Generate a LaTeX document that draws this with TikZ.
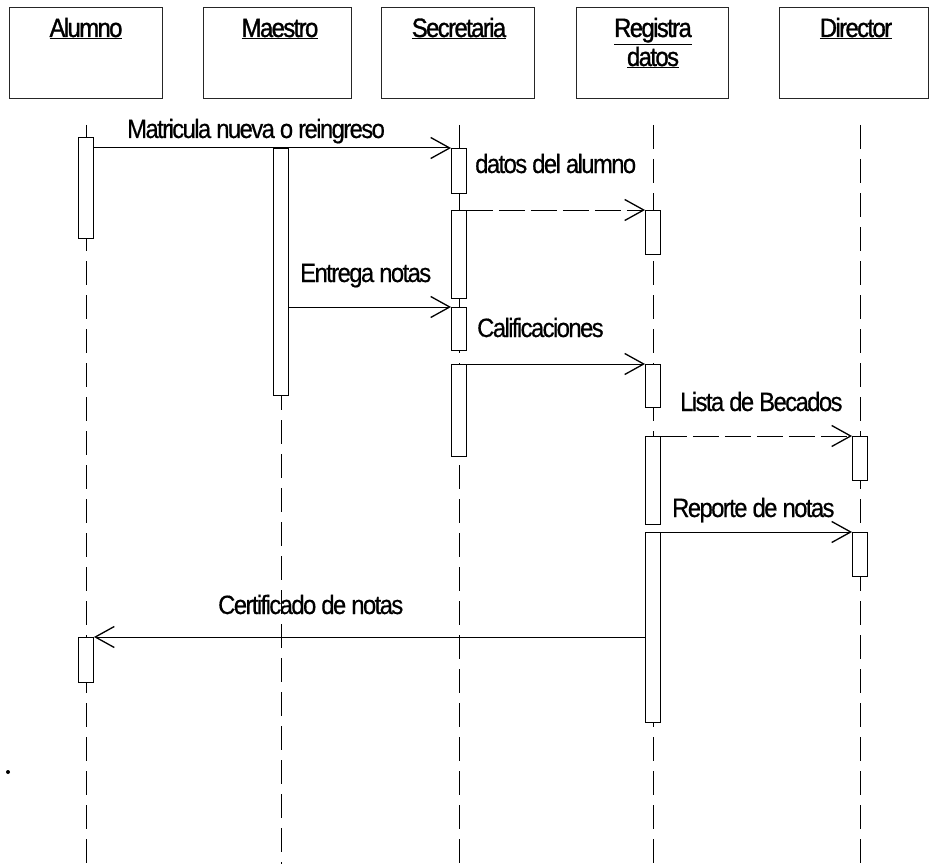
\documentclass[tikz,border=0pt]{standalone}
\usepackage{fontspec}
\newfontfamily\lbl[FakeStretch=0.9,LetterSpace=-6,FakeBold=0.5]{Liberation Sans}
\newfontfamily\hlbl[FakeStretch=0.9,LetterSpace=-6,FakeBold=1.2]{Liberation Sans}
\usetikzlibrary{arrows.meta}
\begin{document}
\begin{tikzpicture}[x=1pt,y=-1pt,
 hdr/.style={draw=black!85, line width=0.9pt, minimum width=#1, minimum height=91pt, inner sep=0pt, anchor=north west},
 bar/.style={draw=black, fill=white, line width=0.9pt, minimum width=15pt, minimum height=#1, inner sep=0pt, anchor=north},
 life/.style={draw=black, line width=0.9pt, dash pattern=on 24pt off 10pt},
 msg/.style={draw=black, line width=1pt, -{Straight Barb[length=19pt,width=21pt,line width=1.3pt]}},
 ret/.style={msg, dash pattern=on 26pt off 6pt},
 txt/.style={font=\lbl\fontsize{26.5}{30}\selectfont, inner sep=0pt, anchor=base west},
 htxt/.style={font=\hlbl\fontsize{26.5}{30}\selectfont, inner sep=0pt, anchor=base},
]
\useasboundingbox (0,0) rectangle (929,864);

% header boxes
\node[hdr=153pt] (hA) at (9,7) {};
\node[hdr=148pt] (hM) at (203,7) {};
\node[hdr=153pt] (hS) at (381,7) {};
\node[hdr=152pt] (hR) at (576,7) {};
\node[hdr=149pt] (hD) at (779,7) {};
\node[htxt] (tA) at (86,37) {\underline{Alumno}};
\node[htxt] (tM) at (280,37) {\underline{Maestro}};
\node[htxt] (tS) at (459,37) {\underline{Secretaria}};
\node[htxt] (tR1) at (653,37) {\underline{Registra}};
\node[htxt] (tR2) at (653,66) {\underline{datos}};
\node[htxt] (tD) at (856,37) {\underline{Director}};

% lifelines
\coordinate (lA0) at (86,125);  \coordinate (lA1) at (86,864);
\coordinate (lM0) at (281,148); \coordinate (lM1) at (281,864);
\coordinate (lS0) at (459,125); \coordinate (lS1) at (459,864);
\coordinate (lR0) at (653,125); \coordinate (lR1) at (653,864);
\coordinate (lD0) at (860,125); \coordinate (lD1) at (860,864);
\draw[life] (lA0) -- (lA1);
\draw[life] (lM0) -- (lM1);
\draw[life] (lS0) -- (lS1);
\draw[life] (lR0) -- (lR1);
\draw[life] (lD0) -- (lD1);

% activation bars
\node[bar=101pt] (A1) at (86,137) {};
\node[bar=45pt]  (A2) at (86,637) {};
\node[bar=247pt] (M1) at (281,148) {};
\node[bar=45pt]  (S1) at (459,148) {};
\node[bar=88pt]  (S2) at (459,210) {};
\node[bar=43pt]  (S3) at (459,307) {};
\node[bar=92pt]  (S4) at (459,364) {};
\node[bar=44pt]  (R1) at (653,210) {};
\node[bar=43pt]  (R2) at (653,364) {};
\node[bar=88pt]  (R3) at (653,436) {};
\node[bar=190pt] (R4) at (653,532) {};
\node[bar=44pt]  (D1) at (860,436) {};
\node[bar=44pt]  (D2) at (860,532) {};

% messages
\draw[msg] (S1.north west -| A1.east) -- (S1.north west);
\node[txt] (m1) at (127,138) {Matricula nueva o reingreso};
\draw[ret] (S2.north east) -- (R1.north west);
\node[txt] (m2) at (475,173) {datos del alumno};
\draw[msg] (S3.north west -| M1.east) -- (S3.north west);
\node[txt] (m3) at (300,282) {Entrega notas};
\draw[msg] (S4.north east) -- (R2.north west);
\node[txt] (m4) at (477,337) {Calificaciones};
\draw[ret] (R3.north east) -- (D1.north west);
\node[txt] (m5) at (680,411) {Lista de Becados};
\draw[msg] (R4.north east) -- (D2.north west);
\node[txt] (m6) at (672,517) {Reporte de notas};
\draw[msg] (A2.north east -| R4.west) -- (A2.north east);
\node[txt] (m7) at (218,614) {Certificado de notas};

% stray dot
\fill (8,772) circle (2pt);
\end{tikzpicture}
\end{document}
